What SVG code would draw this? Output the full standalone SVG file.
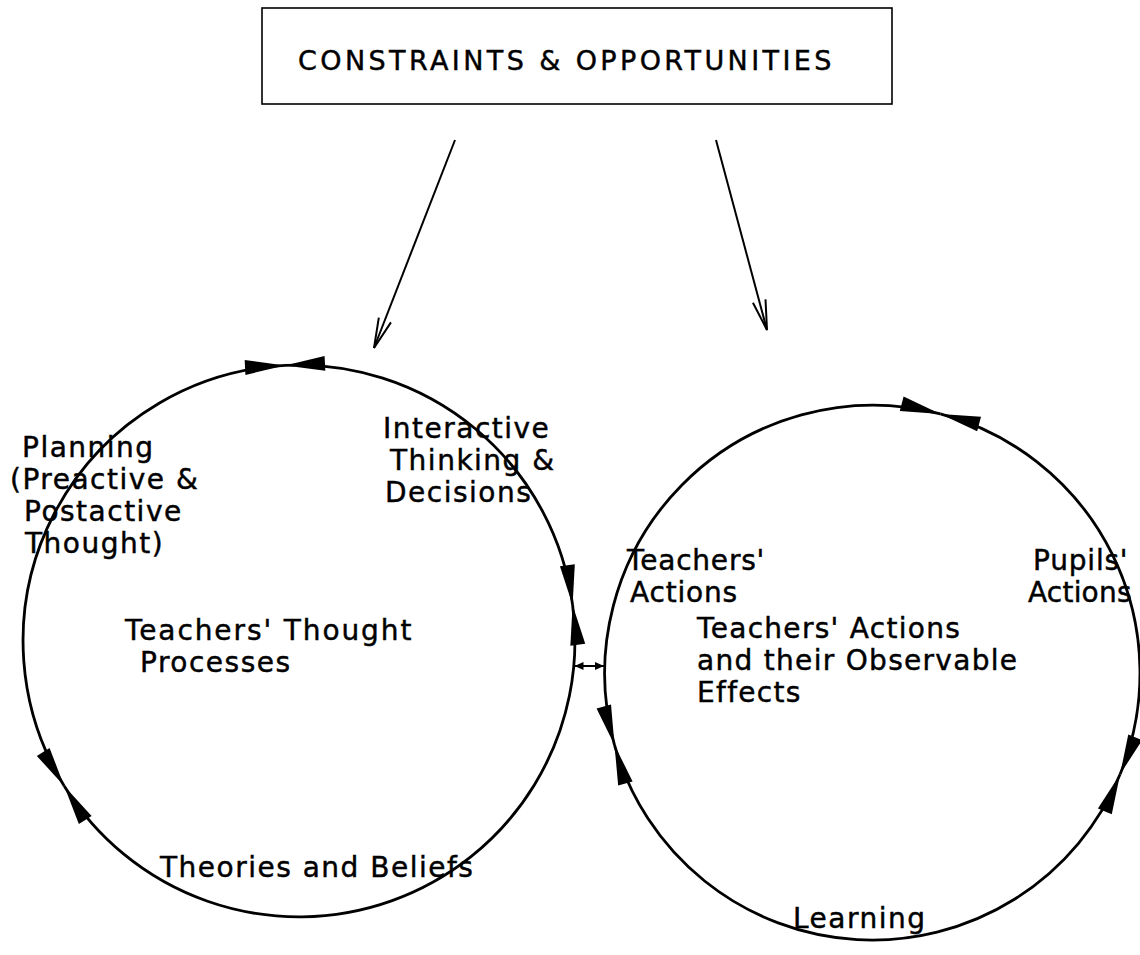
<svg xmlns="http://www.w3.org/2000/svg" width="1140" height="955" viewBox="0 0 1140 955">
<style>
text{font-family:"DejaVu Sans","Liberation Sans",sans-serif;fill:#000;stroke:#000;stroke-width:0.45}
.lbl{font-size:28px;letter-spacing:1.5px}
.box{font-size:27px;letter-spacing:3.4px}
.ring{fill:none;stroke:#000;stroke-width:2.8}
.conn{fill:none;stroke:#000;stroke-width:2}
</style>
<defs>
<marker id="ah" markerUnits="userSpaceOnUse" markerWidth="44" markerHeight="20" viewBox="-42 -10 44 20" refX="0" refY="0" orient="auto-start-reverse">
<path d="M0,0 L-40,-7.5 L-40,7.5 Z" fill="#000"/>
</marker>
<marker id="vh" markerUnits="userSpaceOnUse" markerWidth="36" markerHeight="20" viewBox="-34 -10 36 20" refX="0" refY="0" orient="auto">
<path d="M-30,-6.5 L0,0 L-30,6.5" fill="none" stroke="#000" stroke-width="2"/>
</marker>
<marker id="sh" markerUnits="userSpaceOnUse" markerWidth="12" markerHeight="10" viewBox="-11 -5 12 10" refX="0" refY="0" orient="auto-start-reverse">
<path d="M0,0 L-9,-4 L-9,4 Z" fill="#000"/>
</marker>
</defs>

<g id="constraints">
<rect x="262" y="8" width="630" height="96" fill="#fff" stroke="#000" stroke-width="1.6"/>
<text class="box" x="298" y="70">CONSTRAINTS &amp; OPPORTUNITIES</text>
</g>

<g id="thought-processes">
<path class="ring" d="M64.2,786 A276,276 0 0 1 285,365.4" marker-start="url(#ah)" marker-end="url(#ah)"/>
<path class="ring" d="M285,365.4 A276,276 0 0 1 572.6,605" marker-start="url(#ah)" marker-end="url(#ah)"/>
<path class="ring" d="M572.6,605 A276,276 0 0 1 64.2,786" marker-start="url(#ah)" marker-end="url(#ah)"/>
<text class="lbl" x="22" y="457">Planning</text>
<text class="lbl" x="10" y="489">(Preactive &amp;</text>
<text class="lbl" x="24" y="521">Postactive</text>
<text class="lbl" x="25" y="553">Thought)</text>
<text class="lbl" x="383" y="438">Interactive</text>
<text class="lbl" x="390" y="470">Thinking &amp;</text>
<text class="lbl" x="385" y="502">Decisions</text>
<text class="lbl" x="125" y="640" style="letter-spacing:1.9px">Teachers' Thought</text>
<text class="lbl" x="140" y="672">Processes</text>
<text class="lbl" x="160" y="877">Theories and Beliefs</text>
</g>

<g id="actions-effects">
<path class="ring" d="M614.5,745 A268,268 0 0 1 940.4,413.9" marker-start="url(#ah)" marker-end="url(#ah)"/>
<path class="ring" d="M940.4,413.9 A268,268 0 0 1 1120.1,774.3" marker-start="url(#ah)" marker-end="url(#ah)"/>
<path class="ring" d="M1120.1,774.3 A268,268 0 0 1 614.5,745" marker-start="url(#ah)" marker-end="url(#ah)"/>
<text class="lbl" x="627" y="570" style="letter-spacing:0.8px">Teachers'</text>
<text class="lbl" x="630" y="602" style="letter-spacing:0.8px">Actions</text>
<text class="lbl" x="697" y="638" style="letter-spacing:1.3px">Teachers' Actions</text>
<text class="lbl" x="697" y="670" style="letter-spacing:1.3px">and their Observable</text>
<text class="lbl" x="697" y="702" style="letter-spacing:1.3px">Effects</text>
<text class="lbl" x="1033" y="570" style="letter-spacing:0.8px">Pupils'</text>
<text class="lbl" x="1028" y="602" style="letter-spacing:0.2px">Actions</text>
<text class="lbl" x="793" y="928">Learning</text>
</g>

<g id="connectors">
<line class="conn" x1="455" y1="140" x2="374" y2="348" marker-end="url(#vh)"/>
<line class="conn" x1="716" y1="140" x2="767" y2="330" marker-end="url(#vh)"/>
<line class="conn" x1="574.5" y1="666" x2="604" y2="666" stroke-width="2.8" marker-start="url(#sh)" marker-end="url(#sh)"/>
</g>
</svg>
